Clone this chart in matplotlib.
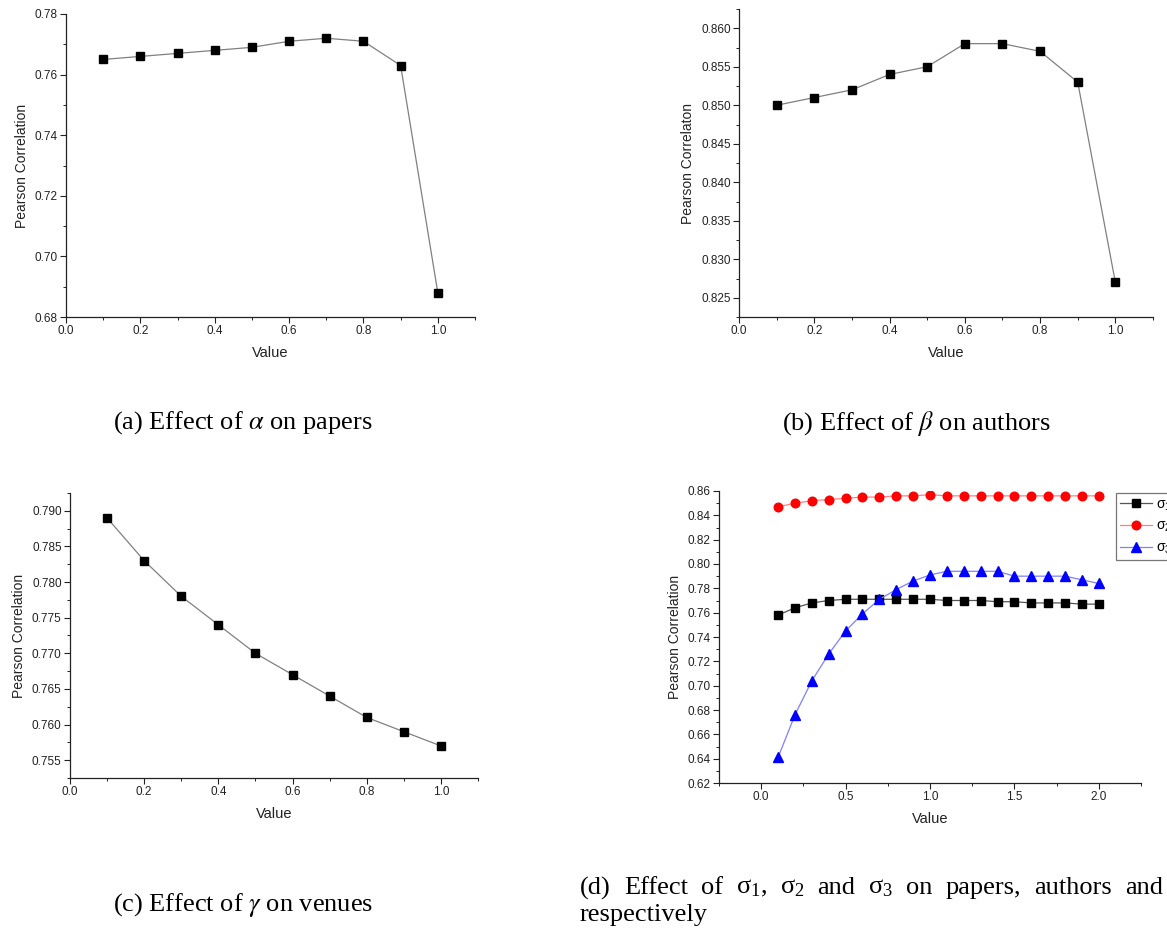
import matplotlib
matplotlib.use("Agg")
import matplotlib.pyplot as plt
from matplotlib.ticker import MultipleLocator, FormatStrFormatter

plt.rcParams['font.family'] = ['Liberation Sans', 'DejaVu Sans']
plt.rcParams['mathtext.fontset'] = 'stix'

# ---------------- data ----------------
x10 = [0.1, 0.2, 0.3, 0.4, 0.5, 0.6, 0.7, 0.8, 0.9, 1.0]
alpha_vals = [0.765, 0.766, 0.767, 0.768, 0.769, 0.771, 0.772, 0.771, 0.763, 0.688]
beta_vals = [0.850, 0.851, 0.852, 0.854, 0.855, 0.858, 0.858, 0.857, 0.853, 0.827]
gamma_vals = [0.789, 0.783, 0.778, 0.774, 0.770, 0.767, 0.764, 0.761, 0.759, 0.757]

x20 = [0.1, 0.2, 0.3, 0.4, 0.5, 0.6, 0.7, 0.8, 0.9, 1.0,
       1.1, 1.2, 1.3, 1.4, 1.5, 1.6, 1.7, 1.8, 1.9, 2.0]
sigma1 = [0.758, 0.764, 0.768, 0.770, 0.771, 0.771, 0.771, 0.771, 0.771, 0.771,
          0.770, 0.770, 0.770, 0.769, 0.769, 0.768, 0.768, 0.768, 0.767, 0.767]
sigma2 = [0.847, 0.850, 0.852, 0.853, 0.854, 0.855, 0.855, 0.856, 0.856, 0.857,
          0.856, 0.856, 0.856, 0.856, 0.856, 0.856, 0.856, 0.856, 0.856, 0.856]
sigma3 = [0.641, 0.676, 0.704, 0.726, 0.745, 0.759, 0.771, 0.779, 0.786, 0.791,
          0.794, 0.794, 0.794, 0.794, 0.790, 0.790, 0.790, 0.790, 0.787, 0.784]
sigma_labels = [r'$\mathregular{\sigma_1}$', r'$\mathregular{\sigma_2}$', r'$\mathregular{\sigma_3}$']

captions = [r'(a) Effect of $\alpha$ on papers',
            r'(b) Effect of $\beta$ on authors',
            r'(c) Effect of $\gamma$ on venues']
caption_d_words = ['(d)', 'Effect', 'of', r'$\mathregular{\sigma_1}$,', r'$\mathregular{\sigma_2}$',
                   'and', r'$\mathregular{\sigma_3}$', 'on', 'papers,', 'authors', 'and']
caption_d_line2 = 'respectively'
ylabels = ['Pearson Correlation', 'Pearson Correlaton', 'Pearson Correlation', 'Pearson Correlation']

W, H = 1167, 935
fig = plt.figure(figsize=(W / 100, H / 100), dpi=100)


def add_axes(l, r, t, b):
    return fig.add_axes([l / W, 1 - b / H, (r - l) / W, (b - t) / H])


def style(ax, ylabel, xmaj, xmin, ymaj, ymin, yfmt, xfmt='%.1f'):
    for s in ['top', 'right']:
        ax.spines[s].set_visible(False)
    for s in ['left', 'bottom']:
        ax.spines[s].set_color('#222222')
        ax.spines[s].set_linewidth(0.9)
    ax.xaxis.set_major_locator(MultipleLocator(xmaj))
    ax.xaxis.set_minor_locator(MultipleLocator(xmin))
    ax.yaxis.set_major_locator(MultipleLocator(ymaj))
    ax.yaxis.set_minor_locator(MultipleLocator(ymin))
    ax.yaxis.set_major_formatter(FormatStrFormatter(yfmt))
    ax.xaxis.set_major_formatter(FormatStrFormatter(xfmt))
    ax.tick_params(which='major', direction='out', length=4, width=0.8, labelsize=8.5,
                   colors='#222222', pad=2)
    ax.tick_params(which='minor', direction='out', length=2, width=0.7, colors='#222222')
    ax.set_xlabel('Value', fontsize=10.5, color='#222222', labelpad=6)
    ax.set_ylabel(ylabel, fontsize=10, color='#222222', labelpad=4)


# (a)
ax = add_axes(66, 475, 14, 317)
ax.plot(x10, alpha_vals, color='#808080', lw=0.9, marker='s', ms=5.5,
        mfc='black', mec='black')
ax.set_xlim(0, 1.1)
ax.set_ylim(0.68, 0.78)
style(ax, ylabels[0], 0.2, 0.1, 0.02, 0.01, '%.2f')

# (b)
ax = add_axes(739, 1153, 9, 317)
ax.plot(x10, beta_vals, color='#808080', lw=0.9, marker='s', ms=5.5,
        mfc='black', mec='black')
ax.set_xlim(0, 1.1)
ax.set_ylim(0.8225, 0.8625)
style(ax, ylabels[1], 0.2, 0.1, 0.005, 0.0025, '%.3f')

# (c)
ax = add_axes(70, 478, 493, 778)
ax.plot(x10, gamma_vals, color='#808080', lw=0.9, marker='s', ms=5.5,
        mfc='black', mec='black')
ax.set_xlim(0, 1.1)
ax.set_ylim(0.7525, 0.7925)
style(ax, ylabels[2], 0.2, 0.1, 0.005, 0.0025, '%.3f')

# (d)
ax = add_axes(719, 1141, 491, 783)
l1, = ax.plot(x20, sigma1, color='#555555', lw=0.9, marker='s', ms=5.8,
              mfc='black', mec='black', label=sigma_labels[0])
l2, = ax.plot(x20, sigma2, color='#ff8080', lw=0.9, marker='o', ms=6.2,
              mfc='red', mec='red', label=sigma_labels[1])
l3, = ax.plot(x20, sigma3, color='#7f7fff', lw=0.9, marker='^', ms=6.8,
              mfc='blue', mec='blue', label=sigma_labels[2])
ax.set_xlim(-0.25, 2.25)
ax.set_ylim(0.62, 0.86)
style(ax, ylabels[3], 0.5, 0.25, 0.02, 0.01, '%.2f')
leg = fig.legend(handles=[l1, l2, l3], loc='upper left',
                 bbox_to_anchor=(1116 / W, 1 - 493 / H), fontsize=10,
                 frameon=True, fancybox=False, edgecolor='#555555',
                 handlelength=2.3, borderpad=0.3, labelspacing=0.45,
                 handletextpad=0.3, borderaxespad=0)
leg.get_frame().set_linewidth(0.9)

# captions
cap_font = dict(family=['Liberation Serif', 'DejaVu Serif'], fontsize=19, color='black')
fig.text(243 / W, 1 - 423 / H, captions[0], ha='center', va='center', **cap_font)
fig.text(916 / W, 1 - 423 / H, captions[1], ha='center', va='center', **cap_font)
fig.text(243 / W, 1 - 905 / H, captions[2], ha='center', va='center', **cap_font)

# justified first line of caption (d)
renderer = fig.canvas.get_renderer()
left_px, right_px = 580, 1163
texts = [fig.text(0, 1 - 888 / H, w, ha='left', va='center', **cap_font) for w in caption_d_words]
widths = [t.get_window_extent(renderer).width for t in texts]
gap = (right_px - left_px - sum(widths)) / (len(texts) - 1)
xpos = left_px
for t, wdt in zip(texts, widths):
    t.set_x(xpos / W)
    xpos += wdt + gap
fig.text(left_px / W, 1 - 915 / H, caption_d_line2, ha='left', va='center', **cap_font)

fig.savefig('out.png', dpi=100)
